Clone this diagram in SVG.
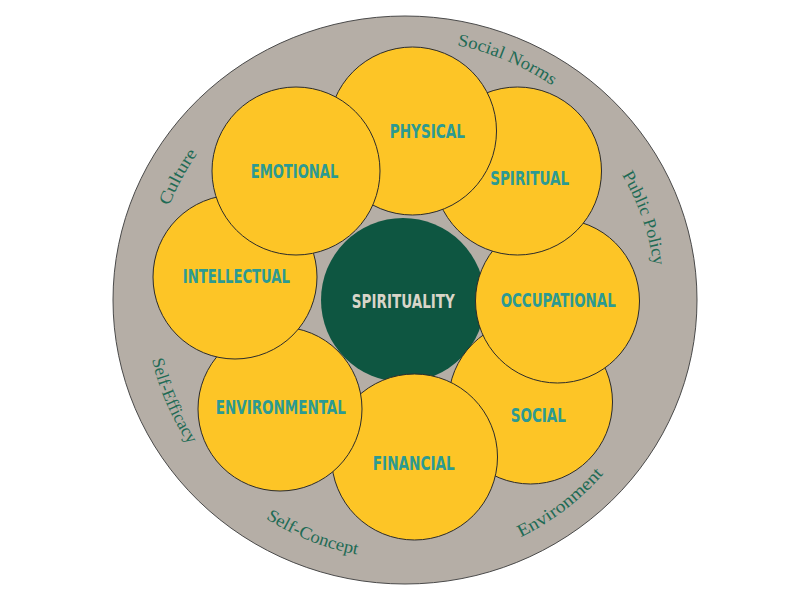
<svg xmlns="http://www.w3.org/2000/svg" width="800" height="600" viewBox="0 0 800 600">
  <style>
    .ring { fill: #b5aea6; stroke: #4a4a4a; stroke-width: 1; }
    .dim { fill: #fdc526; stroke: #2b2b2b; stroke-width: 1; }
    .core { fill: #0e5641; stroke: none; }
    .lbl { font-family: "Liberation Sans Narrow", "DejaVu Sans", sans-serif; font-stretch: condensed; font-weight: bold; font-size: 19.5px; fill: #2c9a92; text-anchor: middle; }
    .corelbl { fill: #d8d5c8; }
    .ctx { font-family: "Liberation Serif", "DejaVu Serif", serif; font-size: 17.5px; fill: #1f6b55; text-anchor: middle; }
  </style>
  <defs>
    <path id="pSocialNorms" d="M 329.0 51.4 A 260 260 0 0 1 636.7 182.0"/>
    <path id="pPublicPolicy" d="M 533.8 85.7 A 252 252 0 0 1 640.3 390.3"/>
    <path id="pCulture" d="M 156.1 350.6 A 254 254 0 0 1 311.9 63.7"/>
    <path id="pEnvironment" d="M 393.0 563.7 A 264 264 0 0 0 662.6 357.6"/>
    <path id="pSelfConcept" d="M 177.2 423.2 A 259 259 0 0 0 486.8 545.8"/>
    <path id="pSelfEfficacy" d="M 155.7 226.2 A 260 260 0 0 0 289.0 532.7"/>
  </defs>
  <rect width="800" height="600" fill="#ffffff"/>

  <g id="context-ring">
    <ellipse class="ring" cx="405" cy="300" rx="292" ry="284"/>
    <text class="ctx"><textPath href="#pSocialNorms" startOffset="50%" textLength="104" lengthAdjust="spacingAndGlyphs">Social Norms</textPath></text>
    <text class="ctx"><textPath href="#pPublicPolicy" startOffset="50%" textLength="97" lengthAdjust="spacingAndGlyphs">Public Policy</textPath></text>
    <text class="ctx"><textPath href="#pCulture" startOffset="50%" textLength="60" lengthAdjust="spacingAndGlyphs">Culture</textPath></text>
    <text class="ctx"><textPath href="#pEnvironment" startOffset="50%" textLength="105" lengthAdjust="spacingAndGlyphs">Environment</textPath></text>
    <text class="ctx"><textPath href="#pSelfConcept" startOffset="50%" textLength="99" lengthAdjust="spacingAndGlyphs">Self-Concept</textPath></text>
    <text class="ctx"><textPath href="#pSelfEfficacy" startOffset="50%" textLength="93" lengthAdjust="spacingAndGlyphs">Self-Efficacy</textPath></text>
  </g>

  <g id="connectors"></g>

  <g id="spirituality">
    <circle class="core" cx="403" cy="300" r="82"/>
    <text class="lbl corelbl" x="403.3" y="307.7" textLength="103" lengthAdjust="spacingAndGlyphs">SPIRITUALITY</text>
  </g>
  <g id="social">
    <circle class="dim" cx="530.5" cy="402" r="82"/>
    <text class="lbl" x="538.3" y="421.7" textLength="55" lengthAdjust="spacingAndGlyphs">SOCIAL</text>
  </g>
  <g id="occupational">
    <circle class="dim" cx="557.5" cy="301" r="82"/>
    <text class="lbl" x="558.2" y="306.7" textLength="115" lengthAdjust="spacingAndGlyphs">OCCUPATIONAL</text>
  </g>
  <g id="spiritual">
    <circle class="dim" cx="517.5" cy="171" r="84"/>
    <text class="lbl" x="529.7" y="185" textLength="79" lengthAdjust="spacingAndGlyphs">SPIRITUAL</text>
  </g>
  <g id="physical">
    <circle class="dim" cx="412.5" cy="131" r="84"/>
    <text class="lbl" x="427.3" y="138.3" textLength="75" lengthAdjust="spacingAndGlyphs">PHYSICAL</text>
  </g>
  <g id="financial">
    <circle class="dim" cx="414.5" cy="457" r="83"/>
    <text class="lbl" x="413.8" y="470" textLength="82" lengthAdjust="spacingAndGlyphs">FINANCIAL</text>
  </g>
  <g id="environmental">
    <circle class="dim" cx="280" cy="409" r="82"/>
    <text class="lbl" x="280.8" y="414.3" textLength="130" lengthAdjust="spacingAndGlyphs">ENVIRONMENTAL</text>
  </g>
  <g id="intellectual">
    <circle class="dim" cx="235" cy="277" r="82"/>
    <text class="lbl" x="236.3" y="283.3" textLength="107" lengthAdjust="spacingAndGlyphs">INTELLECTUAL</text>
  </g>
  <g id="emotional">
    <circle class="dim" cx="296" cy="171" r="84"/>
    <text class="lbl" x="294.5" y="178.3" textLength="87.6" lengthAdjust="spacingAndGlyphs">EMOTIONAL</text>
  </g>
</svg>
